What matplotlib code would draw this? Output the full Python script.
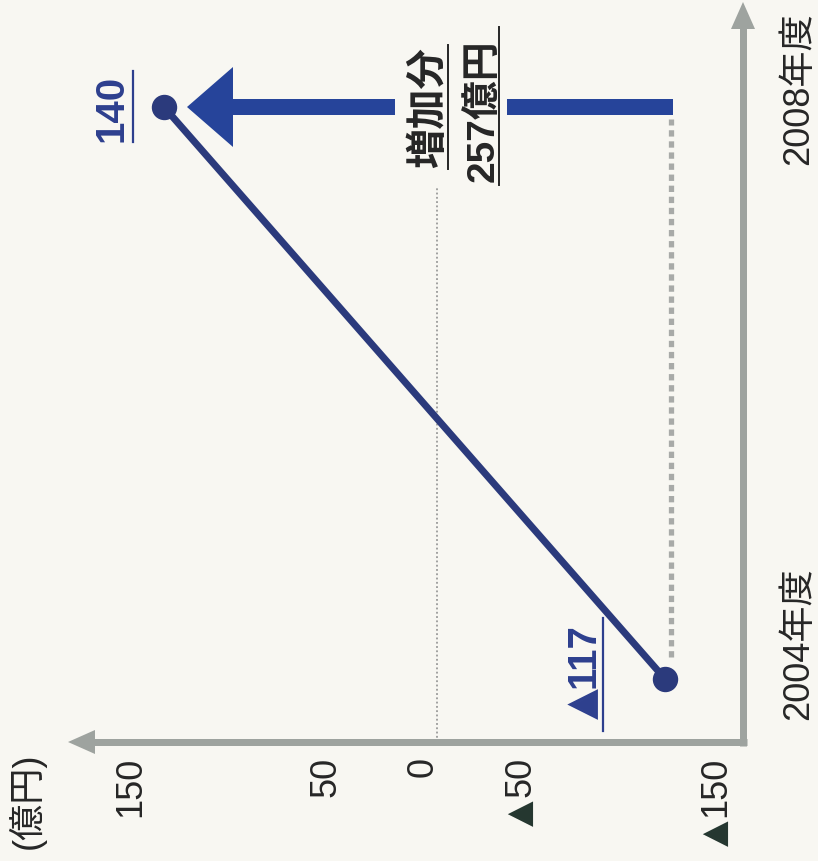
import matplotlib
matplotlib.use("Agg")
import matplotlib.pyplot as plt
from matplotlib.patches import Polygon

# ---- data -------------------------------------------------------------
years = ["2004年度", "2008年度"]
values = [-117, 140]                 # 億円
value_labels = ["117", "140"]        # magnitude; negatives get a ▲ prefix
value_negative = [True, False]
tick_values = [150, 50, 0, -50, -150]
tick_numbers = ["150", "50", "0", "50", "150"]
tick_negative = [False, False, False, True, True]
increase_title = "増加分"
increase_text = f"{values[1] - values[0]}億円"
unit_label = "(億円)"

# ---- style ------------------------------------------------------------
W, H, DPI = 818, 862, 100
BG = "#f8f7f2"
NAVY = "#2b3a7c"
ARROW = "#26449a"
LABEL_BLUE = "#2d3f8e"
AXIS_GRAY = "#9ea39f"
DASH_GRAY = "#a8aaa8"
TEXT = "#262626"
TRI_GREEN = "#24362f"
FONTS = ["Liberation Sans", "Noto Sans CJK JP", "DejaVu Sans"]
TRI_FONT = ["DejaVu Sans"]

fig = plt.figure(figsize=(W / DPI, H / DPI), dpi=DPI)
fig.patch.set_facecolor(BG)
ax = fig.add_axes([0, 0, 1, 1])
ax.set_facecolor(BG)
ax.set_axis_off()

# value axis runs right-to-left, years run bottom-to-top
X0, KX = 437, 1.95          # pixel column of zero, pixels per 億円
Y0, KY = 680, 572           # pixel row of first year, pixels per year step
ax.set_xlim(X0 / KX, (X0 - W) / KX)
ax.set_ylim((Y0 - H) / KY, Y0 / KY)


def vx(px):
    return (X0 - px) / KX


def yp(py):
    return (Y0 - py) / KY


def dx(px):
    return px / KX


def dy(px):
    return px / KY


ypos = list(range(len(years)))

# ---- axes with arrow heads --------------------------------------------
ax_lw = 7 * 0.72
axis_x = vx(743)
axis_y = yp(743)
ax.plot([axis_x, axis_x], [axis_y - dy(4), yp(28)], color=AXIS_GRAY,
        lw=ax_lw, solid_capstyle="butt", zorder=2)
ax.add_patch(Polygon([[axis_x - dx(12), yp(30)], [axis_x + dx(12), yp(30)],
                      [axis_x, yp(3)]], closed=True, color=AXIS_GRAY, lw=0, zorder=2))
ax.plot([axis_x - dx(4), vx(92)], [axis_y, axis_y], color=AXIS_GRAY,
        lw=ax_lw, solid_capstyle="butt", zorder=2)
ax.add_patch(Polygon([[vx(95), axis_y + dy(12)], [vx(95), axis_y - dy(12)],
                      [vx(68), axis_y]], closed=True, color=AXIS_GRAY, lw=0, zorder=2))

# zero reference line
ax.plot([0, 0], [axis_y, yp(188)], color="#8a8a8a", lw=1.1,
        linestyle=(0, (1.2, 1.6)), zorder=1)

# dashed guide from the starting value up to the final year
ax.plot([values[0] - dx(6)] * 2, [ypos[0] + dy(22), ypos[1] - dy(12)],
        color=DASH_GRAY, lw=3.8, linestyle=(0, (1.2, 0.9)),
        dash_capstyle="butt", zorder=2)

# ---- the series -------------------------------------------------------
ax.plot(values, ypos, color=NAVY, lw=7 * 0.72, solid_capstyle="round", zorder=4)
ax.plot(values, ypos, "o", color=NAVY, ms=24 * 0.72, zorder=5)

# ---- increase arrow ---------------------------------------------------
half = dy(8)
tip = values[1] - dx(23)
base = tip - dx(46)
start = values[0] - dx(8)
gap_r, gap_l = vx(507), vx(395)
y1 = ypos[1]
ax.add_patch(Polygon([[start, y1 - half], [gap_r, y1 - half], [gap_r, y1 + half],
                      [start, y1 + half]], closed=True, color=ARROW, lw=0, zorder=3))
ax.add_patch(Polygon([[gap_l, y1 - half], [base, y1 - half], [base, y1 - dy(40)],
                      [tip, y1], [base, y1 + dy(40)], [base, y1 + half],
                      [gap_l, y1 + half]], closed=True, color=ARROW, lw=0, zorder=3))

rot = dict(rotation=90, rotation_mode="anchor")
ax.text(vx(429), y1, increase_title, ha="center", va="center", fontsize=29,
        fontweight="bold", color=TEXT, family=FONTS, **rot)
ax.plot([vx(448)] * 2, [y1 - dy(62), y1 + dy(62)], color=TEXT, lw=1.4, zorder=3)
ax.text(vx(484), y1 - dy(3), increase_text, ha="center", va="center", fontsize=28,
        fontweight="bold", color=TEXT, family=FONTS, **rot)
ax.plot([vx(499)] * 2, [y1 - dy(78), y1 + dy(80)], color=TEXT, lw=1.4, zorder=3)

# ---- value labels (underlined, beside each point) ----------------------
label_dx = [82, 53]             # text centre, pixels left of the point
label_start = [8, 34]           # number begins this many pixels below the point
line_dx = [62, 31]              # underline, pixels left of the point
line_span = [(61, 52), (36, 35)]  # underline reach above / below the point
for v, yv, lab, neg, ldx, st, udx, (up, down) in zip(
        values, ypos, value_labels, value_negative, label_dx, label_start,
        line_dx, line_span):
    t = ax.text(v + dx(ldx), yv - dy(st), lab, ha="left", va="center",
                fontsize=29, fontweight="bold", color=LABEL_BLUE,
                family=FONTS, **rot)
    if neg:
        ax.annotate("▲", xy=(0.5, 0), xycoords=t, xytext=(0, 0),
                    textcoords="offset points", ha="right", va="center",
                    fontsize=29, color=LABEL_BLUE, family=TRI_FONT, **rot)
    ax.plot([v + dx(udx)] * 2, [yv + dy(up), yv - dy(down)],
            color=LABEL_BLUE, lw=1.6, zorder=3)

# ---- year labels ------------------------------------------------------
year_start = [40, 57]        # pixels below each point row where the label begins
for yv, label, st in zip(ypos, years, year_start):
    ax.text(vx(808), yv - dy(st), label, ha="left", va="baseline",
            fontsize=26, color=TEXT, family=FONTS, **rot)

# ---- value tick labels ------------------------------------------------
tick_top = yp(757)
for v, num, neg in zip(tick_values, tick_numbers, tick_negative):
    t = ax.text(v + dx(14), tick_top, num, ha="right", va="center",
                fontsize=26, color=TEXT, family=FONTS, **rot)
    if neg:
        ax.annotate("▲", xy=(0.5, 0), xycoords=t, xytext=(0, -2),
                    textcoords="offset points", ha="right", va="center",
                    fontsize=24, color=TRI_GREEN, family=TRI_FONT, **rot)

ax.text(vx(27), yp(801), unit_label, ha="center", va="center", fontsize=26,
        color=TEXT, family=FONTS, **rot)

fig.savefig("out.png", dpi=DPI, facecolor=BG)
